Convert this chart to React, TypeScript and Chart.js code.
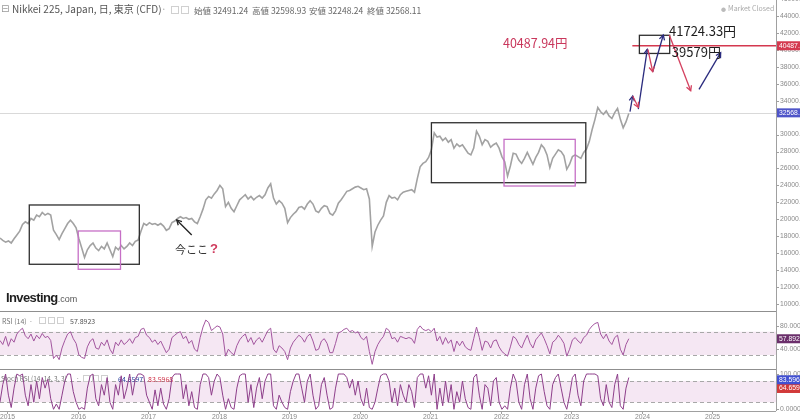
import React, { useEffect, useRef } from "react";
import { Chart, registerables } from "chart.js";

Chart.register(...registerables);

// ---- time grid (trading series sampled every 0.04 year) ----
const START_YEAR = 2014.9;
const STEP_YEARS = 0.04;

const prices = [
  17790, 17500, 17300, 17450, 17200, 17700, 18150, 18600,
  19400, 19700, 19500, 20100, 19900, 20500, 20300, 20800,
  20500, 20700, 20500, 18700, 18200, 17600, 18300, 18900,
  19500, 19900, 19500, 19000, 17700, 16600, 15500, 16400,
  16900, 17200, 16600, 16300, 16800, 16500, 17200, 16400,
  15600, 16700, 16400, 16900, 16500, 16800, 17200, 16900,
  17400, 17550, 18600, 19500, 19300, 19600, 19400, 19500,
  19300, 19500, 19200, 18700, 18900, 19600, 19800, 20100,
  20300, 20100, 20200, 20000, 20100, 19700, 19500, 20300,
  21200, 22300, 22700, 22500, 23000, 23400, 24000, 23600,
  21500, 22000, 21300, 20900, 21600, 22300, 22600, 22900,
  22400, 22700, 22300, 22600, 22800, 22500, 22900, 23700,
  24200, 22500, 21800, 22200, 21900, 21300, 19600, 20200,
  20600, 20900, 21400, 21500, 21200, 21800, 22200, 21800,
  21000, 20800, 21300, 21600, 21500, 20700, 20500, 21000,
  21900, 22300, 22800, 23300, 23400, 23600, 23800, 23900,
  23700, 23500, 23600, 22400, 16800, 18500, 19300, 19900,
  20400, 22000, 22800, 22500, 22600, 22300, 22900, 23200,
  23300, 23400, 23500, 23200, 24800, 26200, 26600, 26800,
  27300, 28200, 30200, 29700, 29800, 29300, 29600, 29100,
  29400, 28400, 28900, 28600, 28800, 28300, 27800, 27600,
  28400, 30400, 29800, 28800, 29400, 29200, 28500, 28800,
  29000, 28400, 27400, 26800, 25100, 26300, 27800, 27700,
  27000, 26600, 27200, 27900, 27200, 26500, 27300, 27900,
  28800, 28400, 27600, 26100, 27200, 27700, 28200, 28000,
  27500, 25900, 26500, 27400, 27600, 27400, 27200, 27900,
  28300, 29200, 30600, 31800, 33200, 32700, 32400, 32800,
  32200, 31900, 32600, 33100, 31800, 30800, 31500, 32500,
];

const rsiValues = [
  55, 48, 62, 45, 58, 52, 66, 72,
  76, 63, 58, 66, 54, 64, 58, 67,
  60, 62, 55, 24, 30, 22, 42, 55,
  66, 70, 58, 50, 30, 26, 24, 44,
  54, 58, 42, 40, 52, 46, 56, 40,
  32, 52, 46, 56, 48, 52, 58, 50,
  60, 62, 74, 76, 64, 60, 52, 56,
  48, 54, 44, 34, 40, 60, 64, 68,
  70, 58, 62, 50, 55, 40, 36, 60,
  78, 90, 86, 72, 76, 80, 78, 66,
  28, 40, 34, 30, 46, 56, 62, 66,
  52, 60, 48, 56, 60, 52, 62, 72,
  76, 40, 34, 46, 42, 36, 22, 42,
  52, 58, 64, 60, 52, 62, 66, 54,
  38, 40, 54, 58, 50, 34, 34, 50,
  68, 70, 74, 76, 70, 72, 68, 70,
  60, 56, 62, 36, 14, 36, 48, 56,
  62, 76, 72, 58, 60, 52, 62, 60,
  58, 60, 58, 50, 74, 80, 74, 72,
  74, 70, 76, 54, 62, 48, 60, 50,
  56, 36, 54, 46, 54, 44, 40, 38,
  58, 78, 60, 38, 54, 52, 42, 54,
  56, 44, 36, 32, 28, 44, 62, 58,
  48, 42, 54, 64, 50, 42, 56, 62,
  68, 58, 46, 32, 52, 56, 64, 58,
  50, 28, 40, 56, 60, 54, 50, 60,
  64, 74, 80, 84, 86, 66, 58, 66,
  54, 48, 60, 64, 40, 30, 48, 58,
];

const stochValues = [
  20, 70, 100, 40, 5, 60, 100, 95,
  100, 40, 10, 70, 20, 80, 30, 90,
  60, 85, 30, 0, 15, 0, 40, 80,
  100, 100, 50, 20, 0, 5, 0, 60,
  95, 100, 30, 10, 70, 40, 90, 20,
  0, 70, 40, 95, 30, 60, 100, 40,
  85, 100, 100, 95, 40, 20, 0, 55,
  10, 60, 15, 0, 30, 90, 100, 100,
  100, 30, 70, 10, 50, 5, 0, 70,
  100, 100, 90, 40, 80, 100, 90, 40,
  0, 30, 5, 0, 60, 95, 100, 100,
  20, 70, 5, 60, 90, 30, 80, 100,
  100, 10, 0, 40, 20, 5, 0, 50,
  80, 100, 100, 60, 20, 80, 100, 40,
  0, 10, 70, 90, 40, 0, 5, 60,
  100, 100, 100, 90, 60, 85, 40, 80,
  30, 10, 60, 5, 0, 20, 60, 95,
  100, 100, 80, 20, 60, 10, 70, 40,
  20, 70, 50, 5, 90, 100, 100, 60,
  95, 40, 100, 0, 60, 10, 80, 20,
  70, 0, 50, 20, 80, 30, 5, 0,
  90, 100, 40, 0, 70, 60, 10, 80,
  90, 20, 0, 10, 0, 60, 100, 80,
  20, 0, 70, 100, 30, 0, 60, 95,
  100, 50, 10, 0, 70, 90, 100, 60,
  20, 0, 40, 90, 100, 40, 10, 80,
  100, 100, 100, 100, 95, 30, 10, 70,
  20, 5, 70, 100, 10, 0, 60, 90,
];

const yearTicks = [2015, 2016, 2017, 2018, 2019, 2020, 2021, 2022, 2023, 2024, 2025];
const priceTicks = [10000, 12000, 14000, 16000, 18000, 20000, 22000, 24000, 26000, 28000, 30000, 34000, 36000, 38000, 40000, 42000, 44000, 46000];
const rsiTicks = [80, 40];
const rsiBands = [70, 30];
const stochTicks = [100, 0];
const stochBands = [80, 20];

const LAST_PRICE = 32568.11;
const RED_LEVEL = 40487.94;
const RED_LEVEL_FROM = 2023.87;
const RSI_LAST = 57.8923;
const STOCH_K = 64.6597;
const STOCH_D = 83.5968;

// annotation boxes: [yearFrom, yearTo, priceLow, priceHigh]
const rangeBoxes = [
  [2015.316, 2016.877, 14690, 21690],
  [2021.02, 2023.21, 24320, 31400],
  [2023.97, 2024.40, 39579, 41724.33],
];
const focusBoxes = [
  [2016.01, 2016.61, 14100, 18620],
  [2022.05, 2023.06, 23930, 29440],
];
// arrows: [[year, price] from, [year, price] to]
const upArrows = [
  [[2023.837, 32703], [2023.875, 34556]],
  [[2023.955, 33000], [2024.082, 40070]],
  [[2024.159, 37425], [2024.309, 41758]],
  [[2024.816, 35347], [2025.123, 39668]],
];
const downArrows = [
  [[2023.875, 34556], [2023.955, 33222]],
  [[2024.09, 40070], [2024.159, 37425]],
  [[2024.394, 41758], [2024.698, 35182]],
];
const pointerArrows = [
  [[2017.62, 18146], [2017.407, 19917]],
];
// labels: [text, year, price]
const levelLabels = [
  ["40487.94円", 2022.035, 40814],
];
const boxLabels = [
  ["41724.33円", 2024.39, 42231],
  ["39579円", 2024.43, 39751],
];
const noteLabels = [["今ここ", 2017.383, 16375]];

const X_MIN = 2014.9007;
const X_MAX = 2025.9078;

const CJK = "'Noto Sans CJK JP', 'Noto Sans', sans-serif";
const AX = "'Liberation Sans', Arial, sans-serif";

function drawArrow(ctx: CanvasRenderingContext2D, x1: number, y1: number, x2: number, y2: number, color: string) {
  ctx.strokeStyle = color;
  ctx.lineWidth = 1.3;
  ctx.beginPath();
  ctx.moveTo(x1, y1);
  ctx.lineTo(x2, y2);
  ctx.stroke();
  const a = Math.atan2(y2 - y1, x2 - x1);
  const h = 5.5;
  ctx.beginPath();
  ctx.moveTo(x2 - h * Math.cos(a - 0.5), y2 - h * Math.sin(a - 0.5));
  ctx.lineTo(x2, y2);
  ctx.lineTo(x2 - h * Math.cos(a + 0.5), y2 - h * Math.sin(a + 0.5));
  ctx.stroke();
}

function icon(ctx: CanvasRenderingContext2D, x: number, y: number) {
  ctx.strokeStyle = "#cfcfcf";
  ctx.lineWidth = 1;
  ctx.strokeRect(x + 0.5, y + 0.5, 6, 6);
}

const overlayPlugin = {
  id: "overlay",
  beforeDatasetsDraw(chart: any) {
    const { ctx, chartArea, scales } = chart;
    const yp = scales.y, yr = scales.yRsi, ys = scales.yStoch;
    const L = chartArea.left, R = chartArea.right;
    ctx.save();
    const r1 = yr.getPixelForValue(rsiBands[0]);
    const r2 = yr.getPixelForValue(rsiBands[1]);
    ctx.fillStyle = "#f5e7f3";
    ctx.fillRect(L, r1, R - L, r2 - r1);
    const s1 = ys.getPixelForValue(stochBands[0]);
    const s2 = ys.getPixelForValue(stochBands[1]);
    ctx.fillRect(L, s1, R - L, s2 - s1);
    ctx.setLineDash([4, 3]);
    ctx.strokeStyle = "#a8a8a8";
    ctx.lineWidth = 1;
    for (const yy of [r1, r2, s1, s2]) {
      ctx.beginPath();
      ctx.moveTo(L, Math.round(yy) + 0.5);
      ctx.lineTo(R, Math.round(yy) + 0.5);
      ctx.stroke();
    }
    ctx.setLineDash([]);
    const lp = Math.round(yp.getPixelForValue(LAST_PRICE)) + 0.5;
    ctx.strokeStyle = "#d9d9d9";
    ctx.beginPath();
    ctx.moveTo(L, lp);
    ctx.lineTo(R, lp);
    ctx.stroke();
    ctx.textBaseline = "middle";
    ctx.font = `7px ${CJK}`;
    ctx.fillStyle = "#777";
    ctx.fillText("RSI (14)", 2, 321);
    ctx.fillText("·", 29, 321);
    icon(ctx, 39, 317); icon(ctx, 48, 317); icon(ctx, 57, 317);
    ctx.fillStyle = "#555";
    ctx.fillText(RSI_LAST.toFixed(4), 70, 321);
    ctx.fillStyle = "#777";
    ctx.font = `6.5px ${CJK}`;
    ctx.fillText("Stoch RSI (14, 14, 3, 3)", 1, 379);
    ctx.fillText("·", 76, 379);
    icon(ctx, 83, 375); icon(ctx, 92, 375); icon(ctx, 101, 375);
    ctx.font = `7px ${CJK}`;
    ctx.fillStyle = "#2b3f9e";
    ctx.fillText(STOCH_K.toFixed(4), 118, 379);
    ctx.fillStyle = "#d0344a";
    ctx.fillText(STOCH_D.toFixed(4), 148, 379);
    ctx.restore();
  },
  afterDatasetsDraw(chart: any) {
    const { ctx, chartArea, scales } = chart;
    const x = scales.x, y = scales.y;
    const px = (v: number) => x.getPixelForValue(v);
    const py = (v: number) => y.getPixelForValue(v);
    ctx.save();
    ctx.strokeStyle = "#d4384f";
    ctx.lineWidth = 1.6;
    ctx.beginPath();
    ctx.moveTo(px(RED_LEVEL_FROM), py(RED_LEVEL));
    ctx.lineTo(chartArea.right, py(RED_LEVEL));
    ctx.stroke();
    ctx.lineWidth = 1.3;
    ctx.strokeStyle = "#2e2e2e";
    for (const b of rangeBoxes) {
      ctx.strokeRect(px(b[0]), py(b[3]), px(b[1]) - px(b[0]), py(b[2]) - py(b[3]));
    }
    ctx.strokeStyle = "#c66fc6";
    for (const b of focusBoxes) {
      ctx.strokeRect(px(b[0]), py(b[3]), px(b[1]) - px(b[0]), py(b[2]) - py(b[3]));
    }
    for (const a of upArrows) drawArrow(ctx, px(a[0][0]), py(a[0][1]), px(a[1][0]), py(a[1][1]), "#2a2b7e");
    for (const a of downArrows) drawArrow(ctx, px(a[0][0]), py(a[0][1]), px(a[1][0]), py(a[1][1]), "#d4405f");
    for (const a of pointerArrows) drawArrow(ctx, px(a[0][0]), py(a[0][1]), px(a[1][0]), py(a[1][1]), "#222");
    ctx.textBaseline = "middle";
    ctx.textAlign = "left";
    ctx.font = `12.5px ${CJK}`;
    ctx.fillStyle = "#c9375c";
    for (const l of levelLabels) ctx.fillText(l[0] as string, px(l[1] as number), py(l[2] as number));
    ctx.fillStyle = "#1e1e1e";
    ctx.font = `13px ${CJK}`;
    for (const l of boxLabels) ctx.fillText(l[0] as string, px(l[1] as number), py(l[2] as number));
    ctx.font = `11px ${CJK}`;
    ctx.fillStyle = "#333";
    for (const l of noteLabels) {
      const tx = px(l[1] as number), ty = py(l[2] as number);
      ctx.fillText(l[0] as string, tx, ty);
      const w = ctx.measureText(l[0] as string).width;
      ctx.font = `bold 13px ${AX}`;
      ctx.fillStyle = "#cf3a5c";
      ctx.fillText("?", tx + w + 2, ty - 1);
    }
    ctx.restore();
  },
  afterDraw(chart: any) {
    const { ctx, chartArea, scales } = chart;
    const x = scales.x, yp = scales.y, yr = scales.yRsi, ys = scales.yStoch;
    const R = chartArea.right, B = chartArea.bottom;
    ctx.save();
    ctx.strokeStyle = "#8f8f8f";
    ctx.lineWidth = 1;
    for (const yy of [311, 369]) {
      ctx.beginPath();
      ctx.moveTo(0, yy + 0.5);
      ctx.lineTo(R, yy + 0.5);
      ctx.stroke();
    }
    ctx.strokeStyle = "#a0a0a0";
    ctx.beginPath();
    ctx.moveTo(R + 0.5, 0);
    ctx.lineTo(R + 0.5, B);
    ctx.moveTo(0, B + 0.5);
    ctx.lineTo(R, B + 0.5);
    ctx.stroke();
    ctx.font = `6.8px ${AX}`;
    ctx.textBaseline = "middle";
    ctx.textAlign = "left";
    const drawTicks = (scale: any, ticks: number[], digits: number) => {
      for (const t of ticks) {
        const yy = scale.getPixelForValue(t);
        ctx.strokeStyle = "#a0a0a0";
        ctx.beginPath();
        ctx.moveTo(R, Math.round(yy) + 0.5);
        ctx.lineTo(R + 3, Math.round(yy) + 0.5);
        ctx.stroke();
        ctx.fillStyle = "#8a8a8a";
        ctx.fillText(t.toFixed(digits), R + 4, yy);
      }
    };
    drawTicks(yp, priceTicks, 2);
    drawTicks(yr, rsiTicks, 4);
    drawTicks(ys, stochTicks, 4);
    ctx.textAlign = "center";
    for (const yv of yearTicks) {
      const xx = Math.round(x.getPixelForValue(yv)) + 0.5;
      ctx.strokeStyle = "#a0a0a0";
      ctx.beginPath();
      ctx.moveTo(xx, B);
      ctx.lineTo(xx, B + 3);
      ctx.stroke();
      ctx.fillStyle = "#8a8a8a";
      ctx.fillText(String(yv), xx, B + 6);
    }
    const tag = (yy: number, color: string, text: string) => {
      ctx.fillStyle = color;
      ctx.fillRect(R + 1, yy - 4.5, 24, 9);
      ctx.fillStyle = "#fff";
      ctx.textAlign = "left";
      ctx.fillText(text, R + 3, yy);
    };
    tag(yp.getPixelForValue(LAST_PRICE), "#4f55c9", LAST_PRICE.toFixed(2));
    tag(yp.getPixelForValue(RED_LEVEL), "#d43a50", RED_LEVEL.toFixed(2));
    tag(yr.getPixelForValue(RSI_LAST), "#6b2f6b", RSI_LAST.toFixed(4));
    tag(ys.getPixelForValue(STOCH_K) + 2, "#d23a3a", STOCH_K.toFixed(4));
    tag(ys.getPixelForValue(STOCH_D), "#4150d2", STOCH_D.toFixed(4));
    ctx.restore();
  },
};

export default function App() {
  const ref = useRef<HTMLCanvasElement | null>(null);

  useEffect(() => {
    if (!ref.current) return;
    const xs = prices.map((_, i) => START_YEAR + STEP_YEARS * i);
    const chart = new Chart(ref.current, {
      type: "line",
      data: {
        datasets: [
          {
            data: xs.map((x, i) => ({ x, y: prices[i] })),
            yAxisID: "y",
            borderColor: "#a2a2a2",
            borderWidth: 1.6,
            pointRadius: 0,
            tension: 0,
          },
          {
            data: xs.map((x, i) => ({ x, y: rsiValues[i] })),
            yAxisID: "yRsi",
            borderColor: "#a3569f",
            borderWidth: 1,
            pointRadius: 0,
            tension: 0,
          },
          {
            data: xs.map((x, i) => ({ x, y: stochValues[i] })),
            yAxisID: "yStoch",
            borderColor: "#8e3f8b",
            borderWidth: 1,
            pointRadius: 0,
            tension: 0,
          },
        ],
      },
      options: {
        animation: false,
        responsive: false,
        maintainAspectRatio: false,
        events: [],
        layout: { padding: { left: 0, top: 0, right: 24, bottom: 8 } },
        plugins: { legend: { display: false }, tooltip: { enabled: false } },
        scales: {
          x: { type: "linear", min: X_MIN, max: X_MAX, display: false },
          y: { type: "linear", min: -2632.4, max: 45890.3, display: false },
          yRsi: { type: "linear", min: -66.1, max: 639.4, display: false },
          yStoch: { type: "linear", min: -4.8, max: 1159.5, display: false },
        },
      } as any,
      plugins: [overlayPlugin],
    });
    return () => chart.destroy();
  }, []);

  const abs = (left: number, top: number, size: number, color: string, extra: any = {}) => ({
    position: "absolute" as const,
    left,
    top,
    fontSize: size,
    color,
    lineHeight: 1,
    whiteSpace: "nowrap" as const,
    ...extra,
  });

  return (
    <div style={{ position: "fixed", left: 0, top: 0, width: 800, height: 419, background: "#fff", overflow: "hidden", fontFamily: CJK }}>
      <canvas ref={ref} width={800} height={419} style={{ position: "absolute", left: 0, top: 0, width: 800, height: 419 }} />
      <span style={abs(1, 4, 10, "#9a9a9a", { fontFamily: "'DejaVu Sans', sans-serif" })}>⊟</span>
      <span style={abs(12, 4, 10, "#555")}>Nikkei 225, Japan, 日, 東京 (CFD)</span>
      <span style={abs(161, 4, 10, "#aaa")}>·</span>
      <div style={{ position: "absolute", left: 171, top: 6, width: 6, height: 6, border: "1px solid #d0d0d0" }} />
      <div style={{ position: "absolute", left: 181, top: 6, width: 6, height: 6, border: "1px solid #d0d0d0" }} />
      <span style={abs(194, 5.5, 8.5, "#666")}>始値 32491.24</span>
      <span style={abs(252, 5.5, 8.5, "#666")}>高値 32598.93</span>
      <span style={abs(309, 5.5, 8.5, "#666")}>安値 32248.24</span>
      <span style={abs(367, 5.5, 8.5, "#666")}>終値 32568.11</span>
      <span style={abs(721, 5.5, 5, "#bbb")}>●</span>
      <span style={abs(728, 5, 7, "#aaa")}>Market Closed</span>
      <span style={abs(6, 291, 13, "#1e1e1e", { fontFamily: AX, fontWeight: "bold", letterSpacing: -0.6 })}>
        Investing<span style={{ fontSize: 9, fontWeight: "normal", color: "#555", letterSpacing: 0 }}>.com</span>
      </span>
    </div>
  );
}
